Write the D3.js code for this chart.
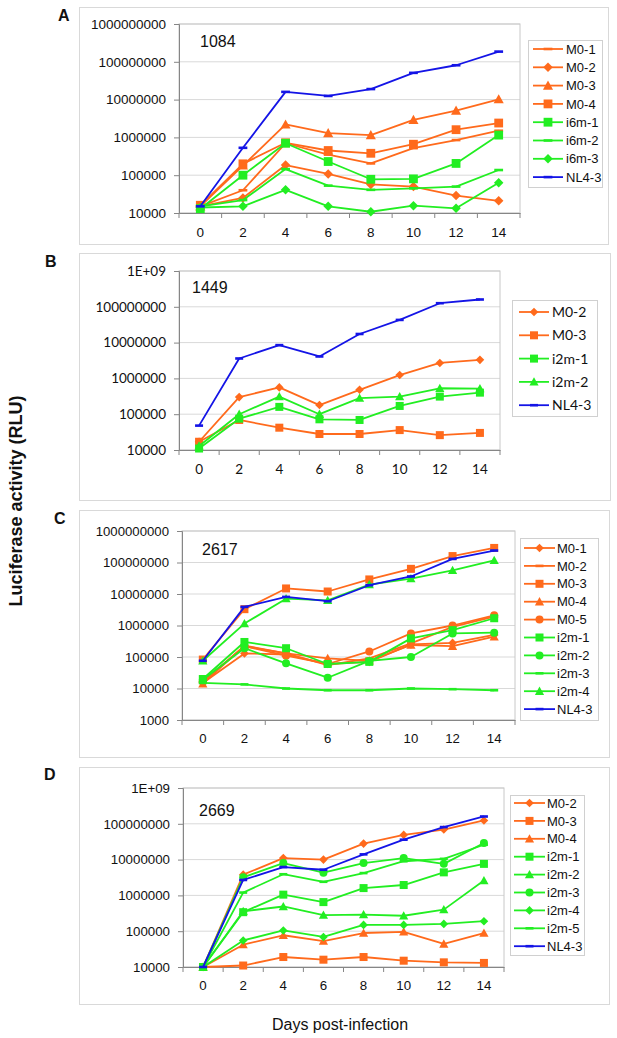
<!DOCTYPE html>
<html><head><meta charset="utf-8">
<script src="https://cdn.jsdelivr.net/npm/d3@7/dist/d3.min.js"></script>
<style>
body{margin:0;background:#fff;}
svg{display:block;}
</style></head>
<body>
<svg id="chart" width="617" height="1038"></svg>
<script>
// ---------- DATA ----------
const days = [0, 2, 4, 6, 8, 10, 12, 14];

const yTicksA = ["10000","100000","1000000","10000000","100000000","1000000000"];
const yTicksB = ["10000","100000","1000000","10000000","100000000","1E+09"];
const yTicksC = ["1000","10000","100000","1000000","10000000","100000000","1000000000"];
const yTicksD = ["10000","100000","1000000","10000000","100000000","1E+09"];

// Panel A (1084)
const namesA = ["M0-1","M0-2","M0-3","M0-4","i6m-1","i6m-2","i6m-3","NL4-3"];
const A_M0_1  = [15000, 40000, 700000, 350000, 205000, 520000, 850000, 1500000];
const A_M0_2  = [15000, 25000, 186000, 108000, 57000, 50000, 29000, 21000];
const A_M0_3  = [15000, 180000, 2200000, 1300000, 1150000, 2900000, 5100000, 10200000];
const A_M0_4  = [16000, 200000, 720000, 450000, 380000, 660000, 1600000, 2400000];
const A_i6m_1 = [13000, 100000, 700000, 230000, 78000, 80000, 205000, 1150000];
const A_i6m_2 = [15000, 22000, 145000, 53000, 41000, 45000, 50000, 137000];
const A_i6m_3 = [14000, 15000, 41000, 15000, 10800, 15600, 13300, 63000];
const A_NL4_3 = [15000, 530000, 16000000, 12500000, 19000000, 51000000, 81000000, 186000000];

// Panel B (1449)
const namesB = ["M0-2","M0-3","i2m-1","i2m-2","NL4-3"];
const B_M0_2  = [17000, 300000, 560000, 180000, 480000, 1240000, 2700000, 3300000];
const B_M0_3  = [17000, 69000, 42000, 28000, 28000, 36000, 26000, 30000];
const B_i2m_1 = [11000, 75000, 160000, 72000, 69000, 170000, 310000, 400000];
const B_i2m_2 = [13000, 100000, 310000, 100000, 280000, 310000, 530000, 520000];
const B_NL4_3 = [48000, 3600000, 8500000, 4100000, 17400000, 43000000, 126000000, 160000000];

// Panel C (2617)
const namesC = ["M0-1","M0-2","M0-3","M0-4","M0-5","i2m-1","i2m-2","i2m-3","i2m-4","NL4-3"];
const C_M0_1  = [15000, 130000, 120000, 60000, 70000, 250000, 280000, 500000];
const C_M0_2  = [16000, 220000, 130000, 55000, 90000, 270000, 900000, 1900000];
const C_M0_3  = [83000, 3300000, 15000000, 12000000, 29000000, 63000000, 160000000, 290000000];
const C_M0_4  = [14000, 230000, 130000, 90000, 75000, 240000, 220000, 440000];
const C_M0_5  = [17000, 220000, 110000, 60000, 150000, 560000, 1000000, 2100000];
const C_i2m_1 = [20000, 300000, 190000, 60000, 70000, 390000, 710000, 1700000];
const C_i2m_2 = [19000, 190000, 63000, 22000, 75000, 100000, 560000, 590000];
const C_i2m_3 = [15000, 13500, 10000, 8800, 8800, 10000, 9500, 8800];
const C_i2m_4 = [76000, 1150000, 7100000, 6300000, 20000000, 31000000, 56000000, 117000000];
const C_NL4_3 = [76000, 3900000, 8100000, 5900000, 19000000, 36000000, 130000000, 240000000];

// Panel D (2669)
const namesD = ["M0-2","M0-3","M0-4","i2m-1","i2m-2","i2m-3","i2m-4","i2m-5","NL4-3"];
const D_M0_2  = [10000, 3800000, 11000000, 10000000, 28000000, 49000000, 69000000, 124000000];
const D_M0_3  = [10000, 11000, 19000, 16000, 19000, 15000, 13500, 13000];
const D_M0_4  = [10000, 42000, 77000, 53000, 89000, 96000, 44000, 88000];
const D_i2m_1 = [10000, 340000, 1050000, 650000, 1600000, 1950000, 4400000, 7600000];
const D_i2m_2 = [10000, 360000, 490000, 280000, 290000, 270000, 400000, 2600000];
const D_i2m_3 = [10000, 3200000, 8000000, 4300000, 8000000, 11000000, 7600000, 29000000];
const D_i2m_4 = [10000, 55000, 105000, 69000, 150000, 150000, 160000, 190000];
const D_i2m_5 = [10000, 1200000, 3900000, 2400000, 4200000, 9000000, 10500000, 26000000];
const D_NL4_3 = [10000, 2700000, 6200000, 5200000, 14000000, 36000000, 81000000, 160000000];

// ---------- STYLE ----------
const ORANGE = "#ff6a1c", GREEN = "#22ee22", BLUE = "#1414e6";
const ARIAL = "'Liberation Sans', Arial, sans-serif";
const CALIBRI = "Lato, 'Open Sans', sans-serif";

const panels = [
  { label:"A", labelPos:[58,21], frame:[79,7,608,244], plot:[179,24,520,213], ymin:1e4, ymax:1e9,
    yTicks:yTicksA, tickFont:ARIAL, tickSize:13.5, title:"1084", titlePos:[200,47],
    legend:{box:[528,40,602,187], y0:49, step:18.3, x1:533, x2:563, tx:566, font:ARIAL, size:13},
    ms:1.1,
    series:[
      [namesA[0], A_M0_1, ORANGE, "dash"],
      [namesA[1], A_M0_2, ORANGE, "diamond"],
      [namesA[2], A_M0_3, ORANGE, "triangle"],
      [namesA[3], A_M0_4, ORANGE, "square"],
      [namesA[4], A_i6m_1, GREEN, "square"],
      [namesA[5], A_i6m_2, GREEN, "dash"],
      [namesA[6], A_i6m_3, GREEN, "diamond"],
      [namesA[7], A_NL4_3, BLUE, "dash"] ] },
  { label:"B", labelPos:[45,267], frame:[79,253,610,500], plot:[179,271,500,450], ymin:1e4, ymax:1e9,
    yTicks:yTicksB, tickFont:CALIBRI, tickSize:13.5, title:"1449", titlePos:[192,293],
    legend:{box:[512,300,597,416], y0:312, step:23.3, x1:519, x2:549, tx:552, font:CALIBRI, size:14},
    ms:1.0,
    series:[
      [namesB[0], B_M0_2, ORANGE, "diamond"],
      [namesB[1], B_M0_3, ORANGE, "square"],
      [namesB[2], B_i2m_1, GREEN, "square"],
      [namesB[3], B_i2m_2, GREEN, "triangle"],
      [namesB[4], B_NL4_3, BLUE, "dash"] ] },
  { label:"C", labelPos:[54,524], frame:[79,510,609,757], plot:[182,531,515,720], ymin:1e3, ymax:1e9,
    yTicks:yTicksC, tickFont:ARIAL, tickSize:13.2, title:"2617", titlePos:[202,555],
    legend:{box:[520,538,598,720], y0:548, step:17.9, x1:524, x2:555, tx:557, font:ARIAL, size:13},
    ms:1.0,
    series:[
      [namesC[0], C_M0_1, ORANGE, "diamond"],
      [namesC[1], C_M0_2, ORANGE, "dash"],
      [namesC[2], C_M0_3, ORANGE, "square"],
      [namesC[3], C_M0_4, ORANGE, "triangle"],
      [namesC[4], C_M0_5, ORANGE, "circle"],
      [namesC[5], C_i2m_1, GREEN, "square"],
      [namesC[6], C_i2m_2, GREEN, "circle"],
      [namesC[7], C_i2m_3, GREEN, "dash"],
      [namesC[8], C_i2m_4, GREEN, "triangle"],
      [namesC[9], C_NL4_3, BLUE, "dash"] ] },
  { label:"D", labelPos:[44,780], frame:[79,767,609,1004], plot:[183,788,504,967], ymin:1e4, ymax:1e9,
    yTicks:yTicksD, tickFont:ARIAL, tickSize:13.3, title:"2669", titlePos:[199,816],
    legend:{box:[510,795,584,955], y0:803, step:17.9, x1:514, x2:545, tx:547, font:ARIAL, size:13},
    ms:1.0,
    series:[
      [namesD[0], D_M0_2, ORANGE, "diamond"],
      [namesD[1], D_M0_3, ORANGE, "square"],
      [namesD[2], D_M0_4, ORANGE, "triangle"],
      [namesD[3], D_i2m_1, GREEN, "square"],
      [namesD[4], D_i2m_2, GREEN, "triangle"],
      [namesD[5], D_i2m_3, GREEN, "circle"],
      [namesD[6], D_i2m_4, GREEN, "diamond"],
      [namesD[7], D_i2m_5, GREEN, "dash"],
      [namesD[8], D_NL4_3, BLUE, "dash"] ] }
];

const svg = d3.select("#chart");
svg.append("rect").attr("width",617).attr("height",1038).attr("fill","#fff");

function drawMarker(g, type, x, y, color, k) {
  if (type === "square") {
    const s = 8 * k;
    g.append("rect").attr("x", x - s/2).attr("y", y - s/2).attr("width", s).attr("height", s).attr("fill", color);
  } else if (type === "diamond") {
    const r = 4.3 * k;
    g.append("path").attr("d", `M${x},${y-r}L${x+r},${y}L${x},${y+r}L${x-r},${y}Z`).attr("fill", color);
  } else if (type === "triangle") {
    const r = 4.6 * k;
    g.append("path").attr("d", `M${x},${y-r}L${x+r},${y+r*0.8}L${x-r},${y+r*0.8}Z`).attr("fill", color);
  } else if (type === "circle") {
    g.append("circle").attr("cx", x).attr("cy", y).attr("r", 4 * k).attr("fill", color);
  } else if (type === "dash") {
    const w = 8 * k, h = 2.6;
    g.append("rect").attr("x", x - w/2).attr("y", y - h/2).attr("width", w).attr("height", h).attr("fill", color);
  }
}

panels.forEach(p => {
  const g = svg.append("g");
  const [fx0, fy0, fx1, fy1] = p.frame;
  g.append("rect").attr("x", fx0 + 0.5).attr("y", fy0 + 0.5).attr("width", fx1 - fx0).attr("height", fy1 - fy0)
    .attr("fill", "#fff").attr("stroke", "#d9d9d9").attr("stroke-width", 1);

  svg.append("text").attr("x", p.labelPos[0]).attr("y", p.labelPos[1]).text(p.label)
    .attr("font-family", ARIAL).attr("font-weight", "bold").attr("font-size", 16).attr("fill", "#111");

  const [L, T, R, B] = p.plot;
  const x = d3.scaleBand().domain(days).range([L, R]).padding(0);
  const y = d3.scaleLog().domain([p.ymin, p.ymax]).range([B, T]);
  const tickVals = p.yTicks.map((t, i) => p.ymin * Math.pow(10, i));

  // gridlines
  g.append("g").selectAll("line").data(tickVals).join("line")
    .attr("x1", L).attr("x2", R).attr("y1", d => y(d)).attr("y2", d => y(d))
    .attr("stroke", "#d9d9d9").attr("stroke-width", 1);
  // plot border
  g.append("rect").attr("x", L).attr("y", T).attr("width", R - L).attr("height", B - T)
    .attr("fill", "none").attr("stroke", "#c8c8c8").attr("stroke-width", 1);

  // y axis
  const yAxis = d3.axisLeft(y).tickValues(tickVals).tickFormat((d, i) => p.yTicks[i]).tickSize(5).tickPadding(8);
  const ya = g.append("g").attr("transform", `translate(${L},0)`).call(yAxis);
  ya.select(".domain").attr("stroke", "#868686");
  ya.selectAll(".tick line").attr("stroke", "#868686");
  ya.selectAll(".tick text").attr("font-family", p.tickFont).attr("font-size", p.tickSize).attr("fill", "#111");

  // x axis (labels at band centres, ticks at band boundaries)
  const xAxis = d3.axisBottom(x).tickSize(0).tickPadding(14);
  const xa = g.append("g").attr("transform", `translate(0,${B})`).call(xAxis);
  xa.select(".domain").attr("stroke", "#868686");
  xa.selectAll(".tick text").attr("font-family", p.tickFont).attr("font-size", p.tickSize).attr("fill", "#111");
  const bounds = days.map(d => x(d)).concat([x(days[days.length - 1]) + x.bandwidth()]);
  g.append("g").selectAll("line").data(bounds).join("line")
    .attr("x1", d => d).attr("x2", d => d).attr("y1", B).attr("y2", B + 5)
    .attr("stroke", "#868686");

  // title
  g.append("text").attr("x", p.titlePos[0]).attr("y", p.titlePos[1]).text(p.title)
    .attr("font-family", ARIAL).attr("font-size", 16).attr("fill", "#111");

  // series
  const line = d3.line().x((d, i) => x(days[i]) + x.bandwidth() / 2).y(d => y(d));
  p.series.forEach(([name, vals, color, mk]) => {
    const sg = g.append("g");
    sg.append("path").datum(vals).attr("d", line).attr("fill", "none")
      .attr("stroke", color).attr("stroke-width", 1.8).attr("stroke-linejoin", "round");
    vals.forEach((v, i) => drawMarker(sg, mk, x(days[i]) + x.bandwidth() / 2, y(v), color, p.ms));
  });

  // legend
  const lg = p.legend;
  g.append("rect").attr("x", lg.box[0] + 0.5).attr("y", lg.box[1] + 0.5)
    .attr("width", lg.box[2] - lg.box[0]).attr("height", lg.box[3] - lg.box[1])
    .attr("fill", "#fff").attr("stroke", "#d0d0d0");
  p.series.forEach(([name, vals, color, mk], i) => {
    const ly = lg.y0 + i * lg.step;
    g.append("line").attr("x1", lg.x1).attr("x2", lg.x2).attr("y1", ly).attr("y2", ly)
      .attr("stroke", color).attr("stroke-width", 1.8);
    drawMarker(g, mk, (lg.x1 + lg.x2) / 2, ly, color, p.ms);
    g.append("text").attr("x", lg.tx).attr("y", ly).attr("dy", "0.36em").text(name)
      .attr("font-family", lg.font).attr("font-size", lg.size).attr("fill", "#111");
  });
});

// shared axis titles
svg.append("text").attr("transform", "translate(22,501) rotate(-90)").attr("text-anchor", "middle")
  .text("Luciferase activity (RLU)").attr("font-family", ARIAL).attr("font-weight", "bold")
  .attr("font-size", 18).attr("fill", "#111");
svg.append("text").attr("x", 340).attr("y", 1030).attr("text-anchor", "middle")
  .text("Days post-infection").attr("font-family", ARIAL).attr("font-size", 16).attr("fill", "#111");
</script>
</body></html>
